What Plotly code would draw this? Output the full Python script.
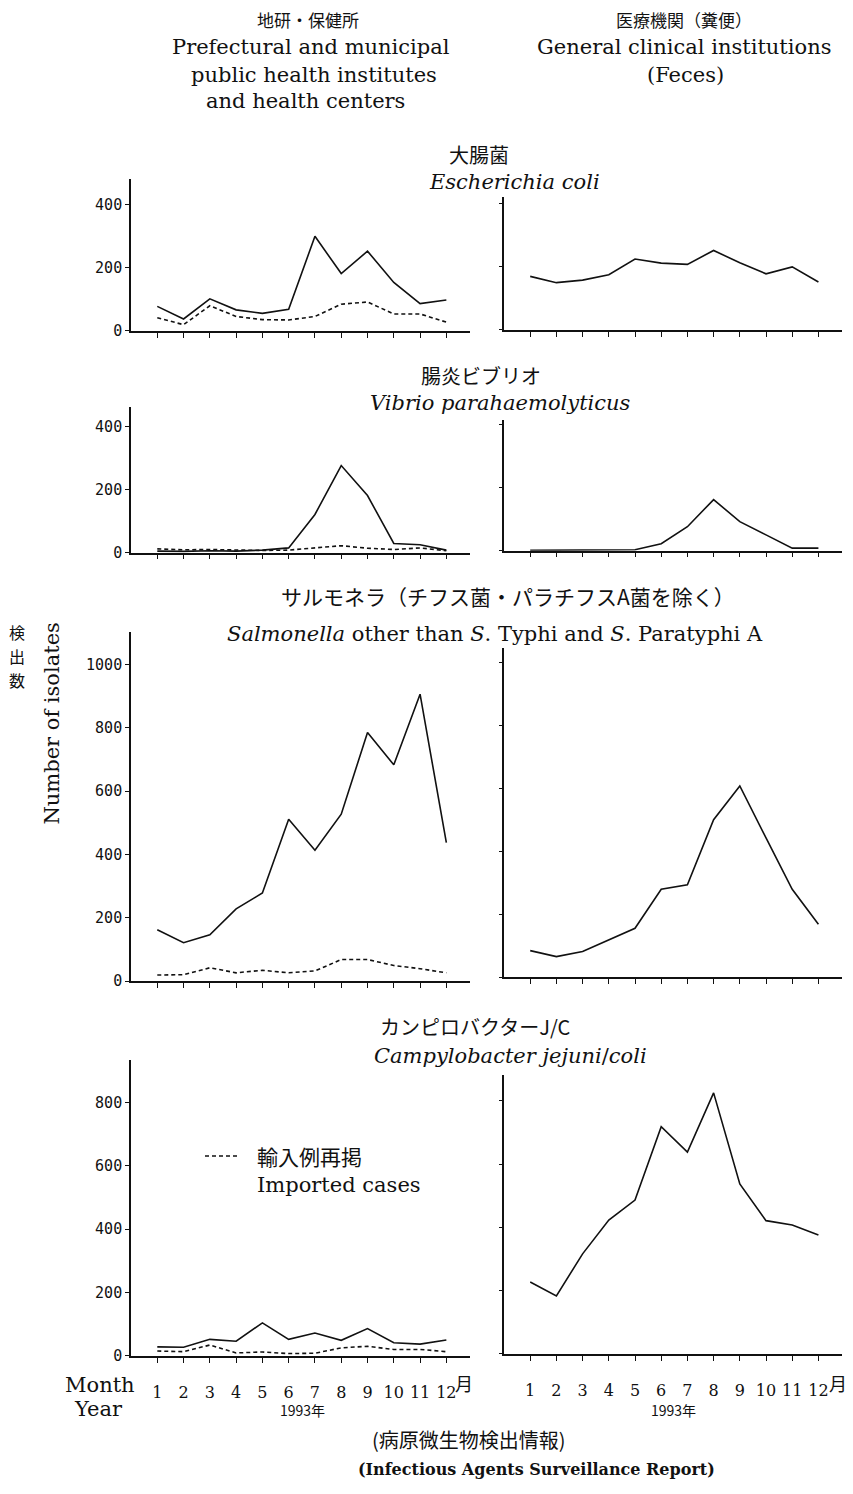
import plotly.graph_objects as go

W, H = 853, 1494

# ---- data (isolates per month, 1993) ----
months = list(range(1, 13))
month_labels = [str(m) for m in months]

ecoli_local = [78, 38, 102, 67, 56, 69, 300, 182, 253, 154, 87, 98]
ecoli_local_imported = [42, 20, 80, 46, 36, 35, 46, 85, 92, 54, 54, 28]
ecoli_clinic = [170, 150, 158, 175, 225, 212, 208, 252, 213, 178, 200, 152]

vibrio_local = [5, 4, 6, 5, 8, 15, 121, 276, 181, 29, 25, 8]
vibrio_local_imported = [12, 9, 10, 8, 7, 8, 15, 22, 14, 10, 15, 6]
vibrio_clinic = [1, 1, 1, 1, 3, 22, 76, 162, 92, 50, 8, 8]

salm_local = [162, 121, 146, 228, 278, 511, 413, 527, 785, 683, 906, 437]
salm_local_imported = [19, 20, 42, 26, 34, 26, 32, 68, 68, 49, 39, 26]
salm_clinic = [84, 65, 81, 118, 155, 279, 293, 500, 607, 442, 279, 168]

campy_local = [28, 27, 52, 46, 104, 52, 72, 49, 86, 41, 37, 50]
campy_local_imported = [15, 13, 34, 9, 12, 7, 8, 25, 30, 20, 20, 13]
campy_clinic = [227, 183, 316, 423, 486, 718, 638, 825, 537, 421, 407, 376]

# y tick values per row
row_ticks = [
    [0, 200, 400],
    [0, 200, 400],
    [0, 200, 400, 600, 800, 1000],
    [0, 200, 400, 600, 800],
]

# ---- layout geometry (pixels) ----
SERIF = "DejaVu Serif"
MONO = "DejaVu Sans Mono"
CJK = "Noto Sans CJK JP"
INK = "#111111"

left_x = (131, 470)
right_x = (504, 842)
xmax = 12.9

# (zero line y, top y, range max) for left and right panel of each row
rows = [
    dict(left=(333, 180, 482), right=(332, 198, 422)),
    dict(left=(556, 409, 463), right=(554, 423, 413)),
    dict(left=(987, 636, 1102), right=(983, 652, 1045)),
    dict(left=(1364, 1066, 936), right=(1362, 1082, 880)),
]


def fx(px):
    return px / W


def fy(py):
    return 1 - py / H


fig = go.Figure()
layout = {}

series = [
    (ecoli_local, ecoli_local_imported, ecoli_clinic),
    (vibrio_local, vibrio_local_imported, vibrio_clinic),
    (salm_local, salm_local_imported, salm_clinic),
    (campy_local, campy_local_imported, campy_clinic),
]

n = 0
for r, (loc, imp, cli) in enumerate(series):
    for c, side in enumerate(["left", "right"]):
        n += 1
        xa = "x" if n == 1 else f"x{n}"
        ya = "y" if n == 1 else f"y{n}"
        xkey = "xaxis" if n == 1 else f"xaxis{n}"
        ykey = "yaxis" if n == 1 else f"yaxis{n}"
        zero, top, ymax = rows[r][side]
        xd = left_x if side == "left" else right_x
        last_row = r == 3

        layout[xkey] = dict(
            domain=[fx(xd[0]), fx(xd[1])],
            anchor=ya,
            range=[0, xmax],
            tickmode="array",
            tickvals=months,
            ticktext=month_labels,
            showticklabels=last_row,
            ticks="outside",
            ticklen=5,
            tickwidth=1.2,
            tickcolor=INK,
            showline=True,
            linecolor=INK,
            linewidth=1.6,
            showgrid=False,
            zeroline=False,
            fixedrange=True,
            tickfont=dict(family=SERIF, size=16, color=INK),
            ticklabelstandoff=16,
        )
        layout[ykey] = dict(
            domain=[fy(zero), fy(top)],
            anchor=xa,
            range=[0, ymax],
            tickmode="array",
            tickvals=row_ticks[r],
            ticktext=[str(v) for v in row_ticks[r]],
            showticklabels=(side == "left"),
            ticks="outside",
            ticklen=4 if side == "left" else 3,
            tickwidth=1.2,
            tickcolor=INK,
            showline=True,
            linecolor=INK,
            linewidth=1.6,
            showgrid=False,
            zeroline=False,
            fixedrange=True,
            tickfont=dict(family=MONO, size=15, color=INK),
        )

        if side == "left":
            fig.add_trace(go.Scatter(
                x=months, y=loc, xaxis=xa, yaxis=ya, mode="lines",
                line=dict(color=INK, width=1.6), showlegend=False,
                hoverinfo="skip"))
            fig.add_trace(go.Scatter(
                x=months, y=imp, xaxis=xa, yaxis=ya, mode="lines",
                line=dict(color=INK, width=1.6, dash="4px,3px"),
                showlegend=False, hoverinfo="skip"))
        else:
            fig.add_trace(go.Scatter(
                x=months, y=cli, xaxis=xa, yaxis=ya, mode="lines",
                line=dict(color=INK, width=1.6), showlegend=False,
                hoverinfo="skip"))

annotations = []


def text(s, x, y, size=21, family=SERIF, xanchor="center", angle=0):
    annotations.append(dict(
        text=s, x=fx(x), y=fy(y), xref="paper", yref="paper",
        xanchor=xanchor, yanchor="middle", showarrow=False,
        textangle=angle, font=dict(family=family, size=size, color=INK)))


# column headers
text("地研・保健所", 308, 20, 17, CJK)
text("Prefectural and municipal", 311, 47)
text("public health institutes", 314, 75)
text("and health centers", 305, 102)
text("医療機関（糞便）", 684, 20, 17, CJK)
text("General clinical institutions", 684, 47)
text("(Feces)", 685, 75)

# panel titles
text("大腸菌", 479, 155, 20, CJK)
text("<i>Escherichia coli</i>", 514, 183)
text("腸炎ビブリオ", 481, 378, 20, CJK)
text("<i>Vibrio parahaemolyticus</i>", 500, 405)
text("サルモネラ（チフス菌・パラチフスA菌を除く）", 508, 600, 21, CJK)
text("<i>Salmonella</i> other than <i>S</i>. Typhi and <i>S</i>. Paratyphi A",
     495, 638)
text("カンピロバクターJ/C", 475, 1033, 20, CJK)
text("<i>Campylobacter jejuni</i>/<i>coli</i>", 510, 1062)

# y-axis title
text("Number of isolates", 52, 728, 21, angle=-90)
for ch, yy in zip("検出数", [636, 660, 684]):
    text(ch, 17, yy, 16, CJK)

# legend for dashed lines
text("輸入例再掲", 255, 1163, 21, CJK, xanchor="left")
text("Imported cases", 255, 1192, 21, xanchor="left")

# bottom labels
text("Month", 100, 1393)
text("Year", 98, 1418)
text("月", 464, 1391, 18, CJK)
text("月", 838, 1391, 18, CJK)
text("1993年", 302, 1419, 14, CJK)
text("1993年", 673, 1419, 14, CJK)
text("(病原微生物検出情報)", 370, 1448, 20, CJK, xanchor="left")
text("<b>(Infectious Agents Surveillance Report)</b>", 356, 1478, 16,
     xanchor="left")

shapes = [dict(
    type="line", xref="paper", yref="paper",
    x0=fx(205), x1=fx(240), y0=fy(1163), y1=fy(1163),
    line=dict(color=INK, width=1.6, dash="4px,3px"))]

fig.update_layout(
    width=W, height=H,
    margin=dict(l=0, r=0, t=0, b=0),
    paper_bgcolor="white",
    plot_bgcolor="white",
    showlegend=False,
    annotations=annotations,
    shapes=shapes,
    **layout,
)

fig.write_html("out.html", config={"displayModeBar": False})
